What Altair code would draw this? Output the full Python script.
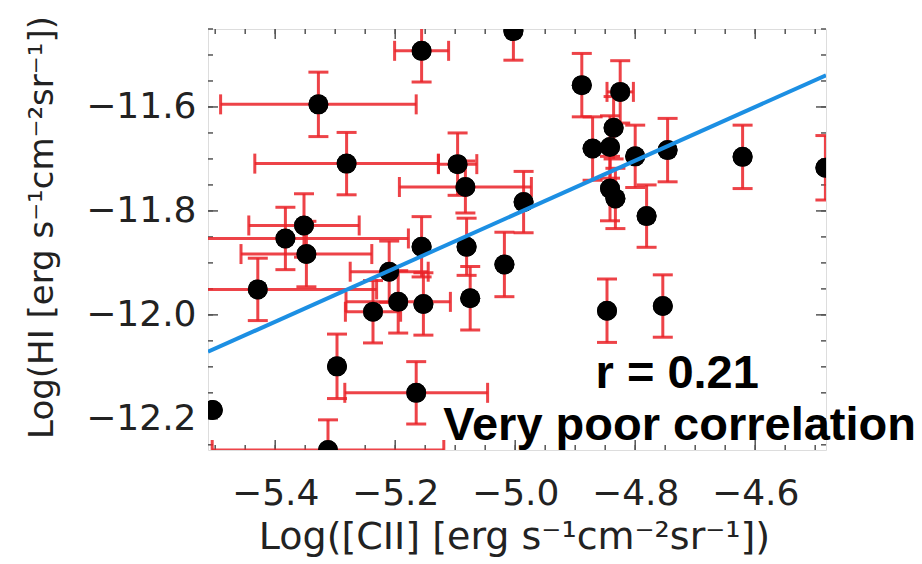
import altair as alt
import numpy as np
import pandas as pd

# Measured fluxes (log) with 1-sigma uncertainties; 0 means no horizontal bar
cii = [-5.156, -5.003, -5.328, -5.281, -5.096, -5.083, -4.986, -4.889, -4.825,
       -4.836, -4.871, -4.842, -4.800, -4.746, -4.621, -4.483, -4.842, -4.833,
       -4.781, -5.352, -5.383, -5.348, -5.429, -5.156, -5.210, -5.237, -5.195,
       -5.153, -5.081, -5.075, -5.018, -5.297, -5.165, -5.504, -5.312, -4.847,
       -4.754]
hi = [-11.492, -11.454, -11.595, -11.709, -11.710, -11.754, -11.783, -11.558,
      -11.571, -11.640, -11.680, -11.677, -11.695, -11.683, -11.696, -11.717,
      -11.757, -11.776, -11.810, -11.828, -11.853, -11.883, -11.951, -11.869,
      -11.917, -11.994, -11.975, -11.979, -11.869, -11.968, -11.903, -12.099,
      -12.150, -12.183, -12.260, -11.992, -11.983]
cii_err = [0.045, 0.0, 0.163, 0.153, 0.032, 0.110, 0.0, 0.0, 0.022,
           0.0, 0.0, 0.0, 0.0, 0.0, 0.0, 0.0, 0.0, 0.0,
           0.0, 0.092, 0.205, 0.109, 0.198, 0.0, 0.065, 0.046, 0.087,
           0.0, 0.0, 0.0, 0.0, 0.0, 0.119, 0.0, 0.193, 0.0,
           0.0]
hi_err = [0.060, 0.056, 0.062, 0.060, 0.060, 0.050, 0.059, 0.061, 0.060,
          0.060, 0.061, 0.060, 0.060, 0.061, 0.061, 0.062, 0.062, 0.058,
          0.060, 0.061, 0.060, 0.063, 0.060, 0.058, 0.059, 0.060, 0.060,
          0.060, 0.055, 0.061, 0.062, 0.062, 0.060, 0.0, 0.058, 0.061,
          0.060]

# Linear fit drawn across the full x range
fit_x = [-5.512, -4.482]
fit_y = [-12.071, -11.539]

x_domain = [-5.512, -4.482]
y_domain = [-12.26, -11.45]
x_labels = [-5.4, -5.2, -5.0, -4.8, -4.6]
y_labels = [-12.2, -12.0, -11.8, -11.6]
x_minor = [round(v, 2) for v in np.arange(-5.50, -4.48, 0.05)]
y_minor = [round(v, 2) for v in np.arange(-12.25, -11.45, 0.05)]

W, H = 618, 421
RED = "#ea2228"
INK = "#222222"
FRAME = "#555555"

df = pd.DataFrame({"x": cii, "y": hi, "xe": cii_err, "ye": hi_err})
df["xlo"] = df["x"] - df["xe"]
df["xhi"] = df["x"] + df["xe"]
df["ylo"] = df["y"] - df["ye"]
df["yhi"] = df["y"] + df["ye"]
dfx = df[df["xe"] > 0]
dfy = df[df["ye"] > 0]

xs = alt.Scale(domain=x_domain, nice=False, zero=False)
ys = alt.Scale(domain=y_domain, nice=False, zero=False)

X = alt.X("x:Q", scale=xs, axis=alt.Axis(
    values=x_labels, format=".1f", ticks=False, tickSize=0, domain=False, grid=False,
    labelFont="DejaVu Sans", labelFontSize=36, labelColor=INK, labelPadding=26,
    title="Log([CII] [erg s⁻¹cm⁻²sr⁻¹])", titleFont="DejaVu Sans", titleFontSize=38,
    titleFontWeight="normal", titleColor=INK, titleX=306, titleY=87,
    titleAlign="center", titleBaseline="middle"))
Y = alt.Y("y:Q", scale=ys, axis=alt.Axis(
    values=y_labels, format=".1f", ticks=False, tickSize=0, domain=False, grid=False,
    labelFont="DejaVu Sans", labelFontSize=36, labelColor=INK, labelPadding=12,
    title="Log(HI [erg s⁻¹cm⁻²sr⁻¹])", titleFont="DejaVu Sans", titleFontSize=34,
    titleFontWeight="normal", titleColor=INK, titleX=-166, titleY=198,
    titleAngle=-90, titleAlign="center", titleBaseline="middle"))

# error bars
bar_style = dict(color=RED, opacity=0.85, clip=True)
vbar = alt.Chart(dfy).mark_rule(strokeWidth=3, **bar_style).encode(
    x=X, y=alt.Y("ylo:Q", scale=ys), y2="yhi:Q")
vcap_lo = alt.Chart(dfy).mark_tick(orient="horizontal", size=20, thickness=3, **bar_style).encode(
    x=alt.X("x:Q", scale=xs), y=alt.Y("ylo:Q", scale=ys))
vcap_hi = alt.Chart(dfy).mark_tick(orient="horizontal", size=20, thickness=3, **bar_style).encode(
    x=alt.X("x:Q", scale=xs), y=alt.Y("yhi:Q", scale=ys))
hbar = alt.Chart(dfx).mark_rule(strokeWidth=3, **bar_style).encode(
    x=alt.X("xlo:Q", scale=xs), x2="xhi:Q", y=alt.Y("y:Q", scale=ys))
hcap_lo = alt.Chart(dfx).mark_tick(orient="vertical", size=20, thickness=3, **bar_style).encode(
    x=alt.X("xlo:Q", scale=xs), y=alt.Y("y:Q", scale=ys))
hcap_hi = alt.Chart(dfx).mark_tick(orient="vertical", size=20, thickness=3, **bar_style).encode(
    x=alt.X("xhi:Q", scale=xs), y=alt.Y("y:Q", scale=ys))

points = alt.Chart(df).mark_circle(color="black", size=400, opacity=1, clip=True).encode(x=X, y=Y)

fit = alt.Chart(pd.DataFrame({"x": fit_x, "y": fit_y})).mark_line(
    color="#1c8fe3", strokeWidth=4, clip=True).encode(
    x=alt.X("x:Q", scale=xs), y=alt.Y("y:Q", scale=ys))


# inward frame ticks on all four sides
def xticks(vals, length):
    d = pd.DataFrame({"v": vals})
    bot = alt.Chart(d).mark_rule(color=FRAME, strokeWidth=1.5).encode(
        x=alt.X("v:Q", scale=xs), y=alt.value(H), y2=alt.value(H - length))
    top = alt.Chart(d).mark_rule(color=FRAME, strokeWidth=1.5).encode(
        x=alt.X("v:Q", scale=xs), y=alt.value(0), y2=alt.value(length))
    return [bot, top]


def yticks(vals, length):
    d = pd.DataFrame({"v": vals})
    left = alt.Chart(d).mark_rule(color=FRAME, strokeWidth=1.5).encode(
        y=alt.Y("v:Q", scale=ys), x=alt.value(0), x2=alt.value(length))
    right = alt.Chart(d).mark_rule(color=FRAME, strokeWidth=1.5).encode(
        y=alt.Y("v:Q", scale=ys), x=alt.value(W), x2=alt.value(W - length))
    return [left, right]


ticks = xticks(x_minor, 5) + xticks(x_labels, 10) + yticks(y_minor, 5) + yticks(y_labels, 10)

notes = pd.DataFrame({
    "x": [-4.73, -4.726],
    "y": [-12.141, -12.241],
    "t": ["r = 0.21", "Very poor correlation"],
})
note_text = alt.Chart(notes).mark_text(
    font="Liberation Sans", fontSize=47, fontWeight="bold", color="black",
    align="center", baseline="alphabetic").encode(
    x=alt.X("x:Q", scale=xs), y=alt.Y("y:Q", scale=ys), text="t:N")

chart = alt.layer(
    points, *ticks, vbar, vcap_lo, vcap_hi, hbar, hcap_lo, hcap_hi, points, fit, note_text
).properties(
    width=W, height=H,
    padding={"left": 208, "top": 29, "right": 96, "bottom": 114},
    autosize=alt.AutoSizeParams(type="none"),
).configure_view(stroke=FRAME, strokeWidth=1.5).configure(background="white")

chart.save("out.html", embed_options={"renderer": "svg", "actions": False})
